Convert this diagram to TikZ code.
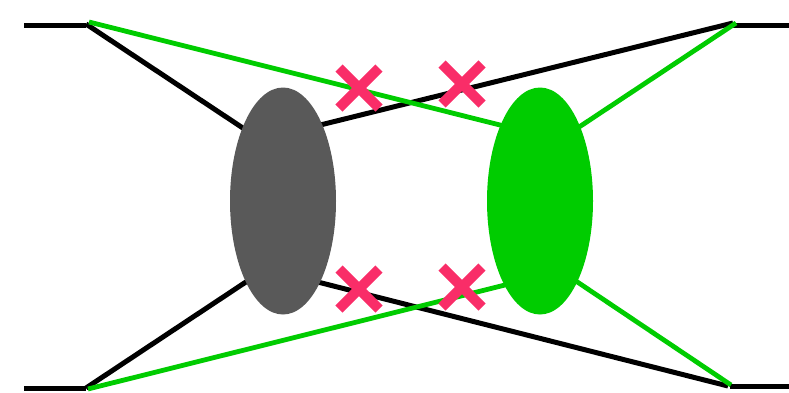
\documentclass[tikz,border=0pt]{standalone}
\usetikzlibrary{shapes.geometric}
\definecolor{blobgray}{HTML}{595959}
\definecolor{blobgreen}{HTML}{00CC00}
\definecolor{crossred}{HTML}{F92D68}
\begin{document}
\begin{tikzpicture}[x=1pt,y=-1pt,
  blk/.style={line width=5pt,black},
  grn/.style={line width=4.8pt,blobgreen},
  blob/.style={ellipse,minimum width=106pt,minimum height=227pt,inner sep=0pt,draw=none},
  crossmark/.style={line width=10pt,crossred}]
\useasboundingbox (0,0) rectangle (789,392);
% vertices
\coordinate (tl0) at (24,25);
\coordinate (tlh) at (86,25);
\coordinate (tl) at (86,24);
\coordinate (tlg) at (89,22);
\coordinate (tr0) at (789,25);
\coordinate (trh) at (732,25);
\coordinate (tr) at (733,23);
\coordinate (trg) at (736,23);
\coordinate (bl0) at (24,388);
\coordinate (blh) at (86,388);
\coordinate (bl) at (86,388);
\coordinate (blg) at (88,389);
\coordinate (br0) at (789,386);
\coordinate (brh) at (730,386);
\coordinate (br) at (728,386);
\coordinate (brg) at (731,385);
% inner ends
\coordinate (g1) at (270,146);
\coordinate (g2) at (300,130);
\coordinate (g3) at (270,266);
\coordinate (g4) at (298,277);
\coordinate (n1) at (520,130);
\coordinate (n2) at (555,143);
\coordinate (n3) at (525,280);
\coordinate (n4) at (555,267);
% lines
\draw[blk] (tl0) -- (tlh);
\draw[blk] (tr0) -- (trh);
\draw[blk] (bl0) -- (blh);
\draw[blk] (br0) -- (brh);
\draw[blk] (tl) -- (g1);
\draw[blk] (tr) -- (g2);
\draw[blk] (bl) -- (g3);
\draw[blk] (br) -- (g4);
\draw[grn] (tlg) -- (n1);
\draw[grn] (trg) -- (n2);
\draw[grn] (blg) -- (n3);
\draw[grn] (brg) -- (n4);
% blobs
\node[blob,fill=blobgray] (gray) at (283,201) {};
\node[blob,fill=blobgreen] (green) at (540,201) {};
% crosses
\foreach \n/\cx/\cy in {c1/359/88, c2/462/84, c3/359/289, c4/462/287}{
  \coordinate (\n) at (\cx,\cy);
  \draw[crossmark] ([shift={(-20,-20)}]\n) -- ([shift={(20,20)}]\n);
  \draw[crossmark] ([shift={(-20,20)}]\n) -- ([shift={(20,-20)}]\n);
}
\end{tikzpicture}
\end{document}
